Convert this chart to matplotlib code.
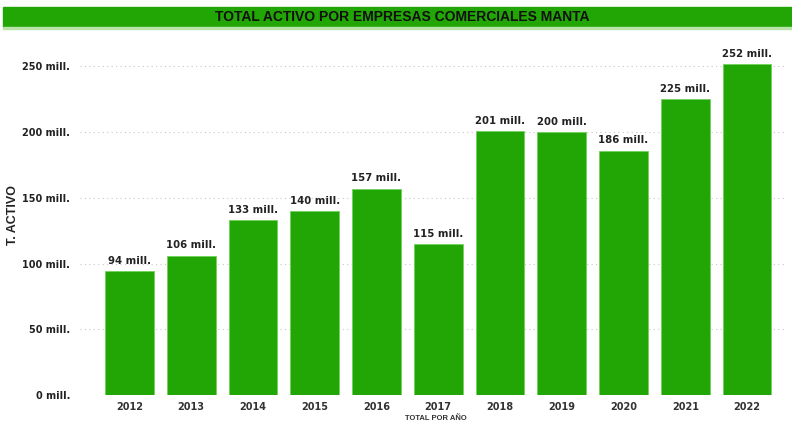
import numpy as np
from matplotlib import pyplot as plt
from matplotlib.patches import Rectangle

years = ['2012', '2013', '2014', '2015', '2016', '2017', '2018', '2019', '2020', '2021', '2022']
activo = [94, 106, 133, 140, 157, 115, 201, 200, 186, 225, 252]
yticks = [0, 50, 100, 150, 200, 250]

green = '#22a605'

fig = plt.figure(figsize=(7.92, 4.25), dpi=100)
ax = fig.add_axes([0.101, 0.0706, 0.889, 0.835])

x = np.arange(len(years))
ax.bar(x, activo, width=0.79, color=green, edgecolor='#6fd35a', linewidth=0.6, zorder=3)
for xi, v in zip(x, activo):
    ax.text(xi, v + 4, f'{v} mill.', ha='center', va='bottom', fontsize=7.3,
            fontweight='bold', color='#222222')

ax.set_xlim(-0.8, 10.6)
ax.set_ylim(0, 270)
ax.set_xticks(x)
ax.set_xticklabels(years, fontsize=7, fontweight='bold', color='#333333')
ax.set_yticks(yticks)
ax.set_yticklabels([f'{t} mill.' for t in yticks], fontsize=7, fontweight='bold', color='#222222')
ax.tick_params(axis='y', length=0, pad=7)
ax.tick_params(axis='x', length=0, pad=5)
ax.grid(axis='y', linestyle=(0, (1, 3)), color='#c8c8c8', linewidth=0.8, zorder=0)
for s in ax.spines.values():
    s.set_visible(False)

fig.text(0.017, 1 - 215 / 425, 'T. ACTIVO', rotation=90, ha='center', va='center', fontsize=9,
         fontweight='bold', color='#222222', family='Liberation Sans')
fig.text(0.55, 1 - 419 / 425, 'TOTAL POR AÑO', ha='center', va='center', fontsize=5.5,
         fontweight='bold', color='#333333', family='Liberation Sans')

# title band
fig.patches.append(Rectangle((0.004, 1 - 27 / 425), 0.996, 20 / 425, transform=fig.transFigure,
                             color=green, zorder=0))
fig.patches.append(Rectangle((0.004, 1 - 29 / 425), 0.996, 2 / 425, transform=fig.transFigure,
                             color='#b9e3a9', zorder=0))
fig.text(0.508, 1 - 17 / 425, 'TOTAL ACTIVO POR EMPRESAS COMERCIALES MANTA', ha='center', va='center',
         fontsize=10, fontweight='bold', color='#111111', family='Liberation Sans')

fig.savefig('out.png', dpi=100)
